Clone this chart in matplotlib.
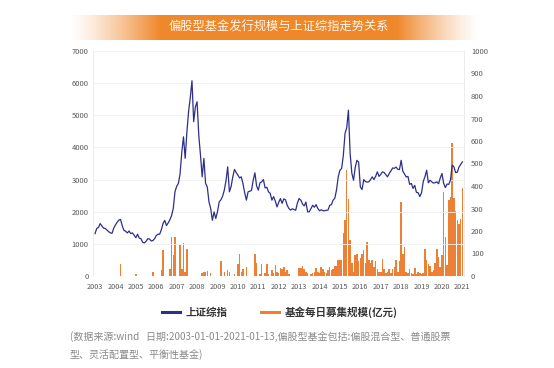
import numpy as np
import matplotlib.pyplot as plt
from matplotlib.lines import Line2D

plt.rcParams['font.family'] = ['Noto Sans CJK SC', 'DejaVu Sans']

NAVY = "#2D2F8E"
ORANGE = "#EC8135"
GREY = "#595959"

START_YEAR = 2003  # first month: 2003-01, one value per month up to 2021-01

# 上证综指, monthly level
sse_index = [
    1320, 1480, 1510, 1630, 1560, 1490, 1480, 1430, 1380, 1340, 1330, 1490,  # 2003
    1590, 1670, 1740, 1760, 1560, 1420, 1390, 1340, 1400, 1320, 1340, 1270,  # 2004
    1190, 1300, 1180, 1160, 1050, 1030, 1080, 1160, 1150, 1090, 1100, 1160,  # 2005
    1260, 1300, 1300, 1440, 1640, 1730, 1570, 1650, 1750, 1880, 2100, 2620,  # 2006
    2790, 2880, 3180, 3840, 4330, 3660, 4470, 5110, 5550, 6075, 4800, 5260,  # 2007
    5420, 4380, 3760, 3085, 3660, 2880, 2775, 2305, 2100, 1735, 1995, 1790,  # 2008
    2000, 2305, 2370, 2480, 2670, 2960, 3395, 2620, 2780, 3085, 3315, 3220,  # 2009
    3140, 3050, 3085, 2870, 2590, 2360, 2620, 2640, 2660, 2980, 3210, 2800,  # 2010
    2670, 2900, 2930, 3000, 2740, 2760, 2620, 2570, 2360, 2470, 2330, 2150,  # 2011
    2290, 2410, 2260, 2400, 2370, 2200, 2100, 2050, 2090, 2070, 2045, 2270,  # 2012
    2410, 2360, 2240, 2180, 2300, 1995, 2000, 2100, 2200, 2140, 2220, 2100,  # 2013
    2030, 2060, 2030, 2030, 2045, 2050, 2200, 2220, 2360, 2420, 2680, 3085,  # 2014
    3290, 3345, 3750, 4435, 4610, 5160, 3810, 3200, 2980, 3380, 3600, 3540,  # 2015
    2770, 2690, 3000, 2940, 2920, 2930, 3000, 3085, 3000, 3100, 3240, 3100,  # 2016
    3160, 3240, 3220, 3150, 3085, 3190, 3270, 3360, 3350, 3390, 3320, 3310,  # 2017
    3600, 3260, 3170, 3080, 3100, 2850, 2880, 2725, 2820, 2600, 2590, 2470,  # 2018
    2590, 2940, 3090, 3290, 2900, 2980, 2930, 2890, 2905, 2930, 2870, 3050,  # 2019
    3190, 2880, 2750, 2860, 2850, 2985, 3450, 3400, 3220, 3225, 3390, 3470,  # 2020
    3550,                                                                    # 2021
]

# 基金每日募集规模(亿元), monthly
fund_raise = [
    0, 0, 0, 0, 0, 0, 0, 0, 0, 0, 0, 0,                      # 2003
    0, 0, 0, 55, 0, 0, 0, 0, 0, 0, 0, 0,                     # 2004
    10, 0, 0, 0, 0, 0, 0, 0, 0, 0, 18, 0,                    # 2005
    0, 0, 0, 28, 117, 0, 0, 0, 30, 175, 95, 175,             # 2006
    0, 0, 137, 30, 147, 20, 122, 0, 0, 0, 0, 0,              # 2007
    0, 0, 0, 15, 20, 18, 22, 0, 13, 0, 0, 0,                 # 2008
    0, 0, 65, 0, 20, 0, 28, 18, 0, 0, 10, 0,                 # 2009
    55, 97, 20, 30, 0, 40, 0, 0, 0, 0, 100, 60,              # 2010
    0, 10, 55, 0, 15, 55, 10, 0, 25, 15, 50, 20,             # 2011
    12, 35, 30, 40, 20, 25, 10, 0, 0, 0, 0, 0,               # 2012
    35, 35, 45, 30, 20, 15, 0, 10, 15, 20, 35, 20,           # 2013
    15, 40, 30, 20, 15, 25, 40, 25, 30, 45, 43, 70,          # 2014
    70, 70, 190, 248, 470, 344, 159, 60, 20, 92, 97, 65,     # 2015
    80, 100, 114, 60, 151, 70, 60, 70, 40, 65, 30, 20,       # 2016
    20, 75, 30, 15, 20, 30, 15, 30, 40, 70, 20, 65,          # 2017
    329, 100, 129, 20, 15, 30, 15, 10, 35, 10, 20, 15,       # 2018
    10, 15, 122, 73, 55, 45, 20, 25, 60, 122, 85, 40,        # 2019
    95, 374, 174, 50, 337, 352, 589, 345, 290, 247, 233, 255,  # 2020
    390,                                                     # 2021
]

year_ticks = list(range(2003, 2022))

x = START_YEAR + np.arange(len(sse_index)) / 12

fig = plt.figure(figsize=(5.54, 3.68), dpi=100)

# title banner: orange fading out at both ends
banner = fig.add_axes([69 / 554, 1 - 40 / 368, 411 / 554, 25 / 368])
u = np.linspace(0, 1, 400)
alpha = np.clip(np.minimum(u / 0.22, (1 - u) / 0.2), 0, 1) ** 1.3
rgba = np.zeros((1, len(u), 4))
rgba[..., 0] = 0xEF / 255
rgba[..., 1] = 0x88 / 255
rgba[..., 2] = 0x2B / 255
rgba[..., 3] = alpha
banner.imshow(rgba, aspect="auto", extent=(0, 1, 0, 1))
banner.set_axis_off()
banner.text(0.51, 0.5, "偏股型基金发行规模与上证综指走势关系", color="#FFF8EE",
            fontsize=8.8, ha="center", va="center", transform=banner.transAxes)

ax = fig.add_axes([93 / 554, 1 - 276 / 368, 371 / 554, 225 / 368])
ax2 = ax.twinx()

ax2.bar(x, fund_raise, width=0.075, color=ORANGE, linewidth=0)
ax.plot(x, sse_index, color=NAVY, lw=0.9)

ax.set_zorder(ax2.get_zorder() + 1)
ax.patch.set_visible(False)

ax.set_xlim(2002.9, 2021.08)
ax.set_ylim(0, 7000)
ax2.set_ylim(0, 1000)
ax.set_yticks(range(0, 7001, 1000))
ax2.set_yticks(range(0, 1001, 100))
ax.set_xticks(year_ticks)

ax.grid(axis="y", color="#f0f0f0", lw=0.6)
ax.grid(axis="x", visible=False)

for a in (ax, ax2):
    for side in ("top", "bottom"):
        a.spines[side].set_visible(False)
    a.spines["left"].set_color("#ededed")
    a.spines["right"].set_color("#ededed")
    a.spines["left"].set_linewidth(0.6)
    a.spines["right"].set_linewidth(0.6)

ax.tick_params(axis="y", length=0, labelsize=5.5, labelcolor=GREY, pad=3)
ax.tick_params(axis="x", length=0, labelsize=5.3, labelcolor=GREY, pad=5)
ax2.tick_params(axis="y", length=0, labelsize=5.5, labelcolor=GREY, pad=5)

handles = [
    Line2D([], [], color=NAVY, lw=2.2, label="上证综指"),
    Line2D([], [], color=ORANGE, lw=2.2, label="基金每日募集规模(亿元)"),
]
leg = fig.legend(handles=handles, loc="center", bbox_to_anchor=(0.505, 1 - 312 / 368),
                 ncol=2, frameon=False, fontsize=7.6, handlelength=1.7,
                 handletextpad=0.5, columnspacing=3.2)
for t in leg.get_texts():
    t.set_color("#333333")
    t.set_fontweight("bold")

note_color = "#8a8a8a"
fig.text(70 / 554, 1 - 337 / 368,
         "(数据来源:wind   日期:2003-01-01-2021-01-13,偏股型基金包括:偏股混合型、普通股票",
         fontsize=7.2, color=note_color, va="center", ha="left")
fig.text(70 / 554, 1 - 355 / 368, "型、灵活配置型、平衡性基金)",
         fontsize=7.2, color=note_color, va="center", ha="left")

fig.savefig("out.png", dpi=100)
